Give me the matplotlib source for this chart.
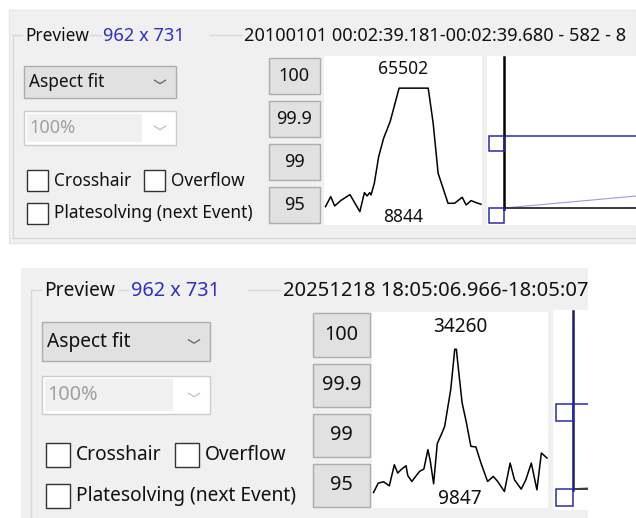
import matplotlib.pyplot as plt
from matplotlib.patches import Rectangle
import numpy as np

# --- data ---
size_label = '962 x 731'
fit_modes = ['Aspect fit', '100%']
percentile_buttons = ['100', '99.9', '99', '95']
checkbox_labels = ['Crosshair', 'Overflow', 'Platesolving (next Event)']

top_header = '20100101 00:02:39.181-00:02:39.680 - 582 - 8'
top_profile_x = [0, 5.3, 9.3, 15.3, 24.7, 34.7, 39.3, 42, 44.7, 46, 49.3, 53.7, 58.7,
                 65.3, 74.3, 103.7, 108.7, 113.7, 123.7, 130.3, 138, 142, 147, 152, 157]
top_profile_adu = [11141, 15735, 11447, 13897, 16654, 8844, 17572, 16041, 17572, 16500,
                   21860, 34110, 42532, 50189, 65502, 65502, 49424, 26454, 12672, 12672,
                   15429, 11907, 13897, 12978, 12213]

bottom_header = '20251218 18:05:06.966-18:05:07.465'
bottom_profile_x = [0, 4.7, 10, 15.7, 20.7, 24, 28, 32.3, 34, 38, 45.7, 50, 54, 56.3, 59.7,
                    63.3, 68, 70.7, 76.7, 80.7, 82.3, 84, 88, 92.3, 96.7, 101.7, 106.7,
                    113.3, 119, 123.3, 130, 135.7, 140, 146.7, 151.3, 156.7, 162.3, 166.7, 172.3]
bottom_profile_adu = [9847, 11444, 11672, 10988, 14581, 13155, 13840, 14410, 12756, 11729,
                      13441, 13840, 17148, 15323, 11330, 18175, 20000, 21141, 27415, 34260,
                      34260, 31408, 25134, 21711, 17719, 17604, 14867, 11729, 12585, 11729,
                      10018, 14867, 12015, 10417, 12015, 14867, 10303, 16578, 15722]

W, H = 636, 518
FONT = 'Noto Sans'
BG = '#f0f0f0'
BLUE = '#2f2fc8'

fig = plt.figure(figsize=(W / 100, H / 100), dpi=100)
fig.patch.set_facecolor('white')
ui = fig.add_axes([0, 0, 1, 1])
ui.set_xlim(0, W)
ui.set_ylim(H, 0)
ui.axis('off')


def rect(x0, y0, x1, y1, fc, ec='none', lw=1.0, clip=None, z=1):
    r = Rectangle((x0, y0), x1 - x0, y1 - y0, facecolor=fc, edgecolor=ec, lw=lw, zorder=z)
    ui.add_patch(r)
    if clip is not None:
        r.set_clip_path(clip)
    return r


def text(x, y, s, size, color='#111111', ha='left', clip=None):
    t = ui.text(x, y, s, fontsize=size, color=color, ha=ha, va='center',
                family=FONT, zorder=5)
    if clip is not None:
        t.set_clip_on(True)
        t.set_clip_path(clip)
    return t


def chevron(cx, cy, color, w=5.5, h=3.5):
    ui.plot([cx - w, cx, cx + w], [cy - h / 2, cy + h / 2, cy - h / 2], color=color, lw=0.9, zorder=5)


def panel(s, fs, fsd, header, prof_x, prof_adu, profile_box, hist_box, clip):
    # s: layout positions for one screenshot, fs: font size for words, fsd: for numbers
    gl, gt, gb = s['group']
    ui.plot([gl, gl], [gt, gb], color='#d8d8d8', lw=1, zorder=2)
    for a, b in s['title_lines']:
        ln, = ui.plot([a, b], [gt, gt], color='#d8d8d8', lw=1, zorder=2)
        ln.set_clip_path(clip)
    ui.plot([gl, s['right']], [gb, gb], color='#d8d8d8', lw=1, zorder=2)
    text(s['preview_x'], gt + 1, 'Preview', fs)
    text(s['size_x'], gt + 1, size_label, fsd, color=BLUE)
    text(s['header_x'], gt + 1, header, s['header_fs'], clip=clip)

    # combo boxes
    cx0, cx1 = s['combo_x']
    y0, y1 = s['combo1_y']
    rect(cx0, y0, cx1, y1, '#e1e1e1', '#adadad', 1.0, z=2)
    text(cx0 + 5, (y0 + y1) / 2, fit_modes[0], fs)
    chevron(cx1 - 16, (y0 + y1) / 2, '#606060')
    y0, y1 = s['combo2_y']
    rect(cx0, y0, cx1, y1, 'white', '#cccccc', 1.0, z=2)
    rect(cx0 + 3, y0 + 3, s['combo2_inner'], y1 - 3, '#f0f0f0', z=2)
    text(cx0 + 5, (y0 + y1) / 2, fit_modes[1], fsd, color='#a0a0a0')
    chevron(cx1 - 16, (y0 + y1) / 2, '#c0c0c0')

    # checkboxes
    for label, (bx, by) in zip(checkbox_labels, s['checks']):
        b = s['box']
        rect(bx, by, bx + b, by + b, 'white', '#333333', 1.0, z=2)
        text(bx + b + 6, by + b / 2, label, fs)

    # percentile buttons
    bx0, bx1 = s['btn_x']
    for label, (y0, y1) in zip(percentile_buttons, s['btn_y']):
        rect(bx0, y0, bx1, y1, '#e1e1e1', '#adadad', 1.0, z=2)
        text((bx0 + bx1) / 2, (y0 + y1) / 2, label, fsd, ha='center')

    # profile plot
    px0, py0, px1, py1 = profile_box
    ax = fig.add_axes([px0 / W, 1 - py1 / H, (px1 - px0) / W, (py1 - py0) / H])
    ax.set_facecolor('white')
    xs = np.array(prof_x)
    ys = np.array(prof_adu)
    ax.plot(xs, ys, color='black', lw=1.1)
    span = (ys.max() - ys.min()) / 0.73
    ax.set_ylim(ys.min() - 0.079 * span, ys.max() + 0.19 * span)
    ax.set_xlim(xs.min() - 1.5, xs.max() + 1)
    ax.set_xticks([])
    ax.set_yticks([])
    for sp in ax.spines.values():
        sp.set_visible(False)
    ax.text(0.5, 0.925, str(ys.max()), transform=ax.transAxes, ha='center', va='center',
            fontsize=fsd * 0.96, family=FONT, color='#111111')
    ax.text(0.5, 0.045, str(ys.min()), transform=ax.transAxes, ha='center', va='center',
            fontsize=fsd * 0.96, family=FONT, color='#111111')

    # stretch / histogram panel
    hx0, hy0, hx1, hy1, vx, top_y, low_y, sq, vcol = hist_box
    rect(hx0, hy0, hx1, hy1, 'white', z=2, clip=clip)
    rise = 12 * (hx1 - vx) / 132
    for ln in [ui.plot([vx, hx1], [low_y, low_y - rise], color='#9a9ae0', lw=0.8, zorder=3)[0],
               ui.plot([vx, hx1], [low_y, low_y], color='#3a3a3a', lw=1.4, zorder=3)[0],
               ui.plot([vx, hx1], [top_y, top_y], color='#2a2ab8', lw=1.1, zorder=3)[0],
               ui.plot([vx, vx], [hy0 + 1, low_y + 1], color=vcol, lw=1.8, zorder=4)[0]]:
        ln.set_clip_path(clip)
    for yy in (top_y, low_y):
        r = rect(vx - sq, yy, vx, yy + sq, 'none', '#2a2ab8', 1.1, z=4)
        r.set_clip_path(clip)


# --- top screenshot ---
top_clip = rect(9, 10, W, 243, BG, z=0)
rect(9, 10, W, 243, 'none', '#e6e6e6', 1.0, z=0)
panel({
    'group': (12.7, 35, 238), 'right': W,
    'title_lines': [(12.7, 22), (90, 101), (210, 241)],
    'preview_x': 25, 'size_x': 103, 'header_x': 244, 'header_fs': 13.1,
    'combo_x': (24, 176), 'combo1_y': (66, 98), 'combo2_y': (111, 145), 'combo2_inner': 142,
    'checks': [(27, 170), (144, 170), (27, 203)], 'box': 21,
    'btn_x': (269, 320), 'btn_y': [(58, 94), (101, 137), (144, 180), (187, 223)],
}, 12.4, 13.1, top_header, top_profile_x, top_profile_adu,
    (324, 56, 482, 225), (487, 56, W, 225, 504.3, 136, 208, 15, 'black'), top_clip)

# --- bottom screenshot ---
bot_clip = rect(21, 268, 588, H, BG, z=0)
panel({
    'group': (31, 290, H + 5), 'right': 588,
    'title_lines': [(31, 41), (119, 129), (248, 280)],
    'preview_x': 44, 'size_x': 131, 'header_x': 283, 'header_fs': 14.5,
    'combo_x': (42, 210), 'combo1_y': (322, 361), 'combo2_y': (376, 414), 'combo2_inner': 173,
    'checks': [(45.7, 443), (175, 443), (45.7, 484)], 'box': 24,
    'btn_x': (313, 370), 'btn_y': [(313, 357), (364, 407), (414, 457), (464, 507)],
}, 13.8, 14.3, bottom_header, bottom_profile_x, bottom_profile_adu,
    (372, 312, 548, 508), (553, 310, 588, 510, 572.7, 404, 489, 17, '#1c1c70'), bot_clip)

fig.savefig('out.png', dpi=100, facecolor='white')
